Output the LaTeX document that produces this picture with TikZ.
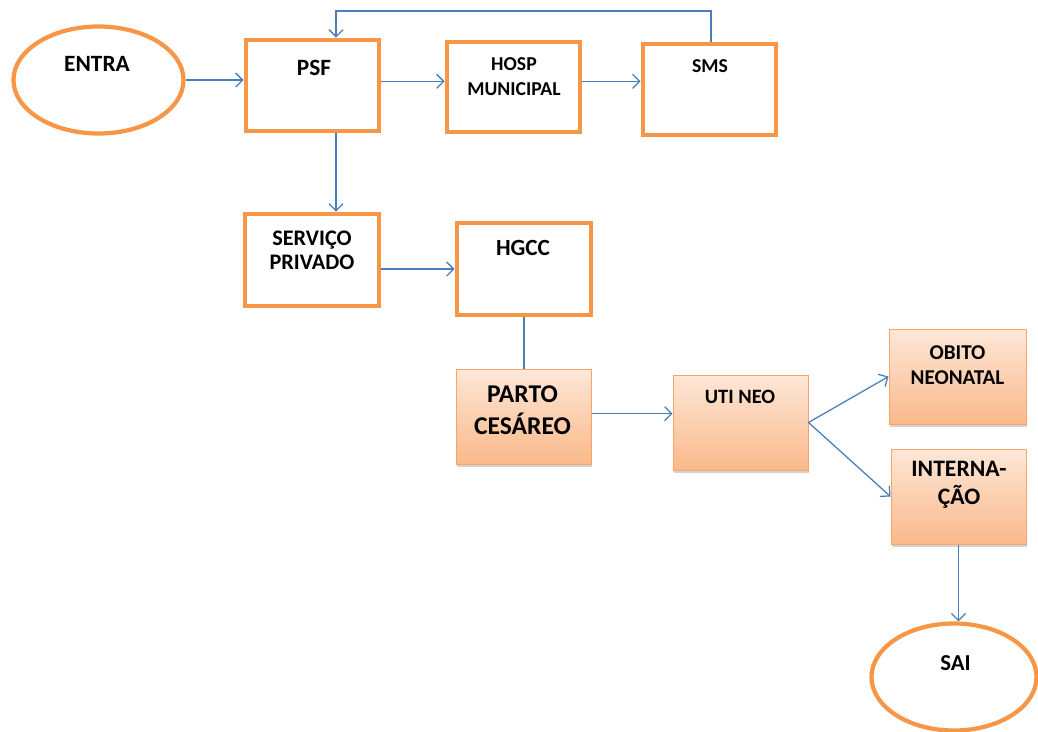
\documentclass[tikz,border=0pt]{standalone}
\usepackage{fontspec}
\setmainfont{Carlito}
\usetikzlibrary{arrows.meta,fit,shapes.geometric,shadows}
\definecolor{orng}{HTML}{F79646}
\definecolor{arrblue}{HTML}{4A7EBB}
\definecolor{ftop}{HTML}{FDE7D7}
\definecolor{fbot}{HTML}{FAB98A}
\definecolor{fedge}{HTML}{F8A466}
\begin{document}
\begin{tikzpicture}[x=0.025cm,y=-0.025cm,
  obox/.style={draw=orng,line width=3.5pt,inner sep=0pt,fill=white},
  fbox/.style={draw=fedge,line width=0.7pt,inner sep=0pt,top color=ftop,bottom color=fbot,
    drop shadow={shadow xshift=0.5pt,shadow yshift=-1.8pt,opacity=0.35}},
  oell/.style={ellipse,draw=orng,line width=3pt,inner sep=0pt,fill=white},
  lbl/.style={align=center,inner sep=0pt,text=black},
  fs/.style n args={2}{font={\fontsize{#1}{#2}\selectfont\bfseries}},
  arr/.style={draw=arrblue,line width=0.9pt,-{Straight Barb[length=5pt,width=10pt]}},
  lnk/.style={draw=arrblue,line width=0.9pt}]
\useasboundingbox (0,0) rectangle (1038,731);

% ellipses
\node[oell,minimum width=4.25cm,minimum height=2.675cm] (entra) at (98.5,80) {};
\node[oell,minimum width=4.125cm,minimum height=2.675cm] (sai) at (954,677) {};

% outlined boxes
\node[obox,fit={(246,40) (379,131)}] (psf) {};
\node[obox,fit={(447,42) (580,132)}] (hosp) {};
\node[obox,fit={(643,44) (776,135)}] (sms) {};
\node[obox,fit={(245,214) (379,306)}] (serv) {};
\node[obox,fit={(457,223) (591,315)}] (hgcc) {};

% filled boxes
\node[fbox,fit={(456,369) (591,464)}] (parto) {};
\node[fbox,fit={(673,375) (808,470)}] (uti) {};
\node[fbox,fit={(889,329) (1026,424)}] (obito) {};
\node[fbox,fit={(891,449) (1026,544)}] (intern) {};

% labels
\node[lbl,fs={16.6}{20}] (entraT) at (97,64) {ENTRA};
\node[lbl,fs={16.6}{20}] (psfT) at (314,67.5) {PSF};
\node[lbl,fs={14}{17.7}] (hospT) at (514,76.5) {HOSP\\MUNICIPAL};
\node[lbl,fs={14}{17}] (smsT) at (710,66) {SMS};
\node[lbl,fs={15.8}{17}] (servT) at (312,250) {SERVIÇO\\PRIVADO};
\node[lbl,fs={16.5}{20}] (hgccT) at (523,247.5) {HGCC};
\node[lbl,fs={18.2}{22.7}] (partoT) at (522.5,410) {PARTO\\CESÁREO};
\node[lbl,fs={14.5}{17}] (utiT) at (740,396.5) {UTI NEO};
\node[lbl,fs={15}{17.7}] (obitoT) at (957.5,365.5) {OBITO\\NEONATAL};
\node[lbl,fs={16.8}{19.9}] (internT) at (959,485) {INTERNA-\\ÇÃO};
\node[lbl,fs={16.2}{19}] (saiT) at (955.5,663) {SAI};

% connectors
\coordinate (top) at (336,11);
\draw[arr] (entra.east) -- (entra.east -| psf.west);
\draw[arr] ([yshift=3pt]psf.east) -- ([yshift=3pt]psf.east -| hosp.west);
\draw[arr] ([yshift=4pt]hosp.east) -- ([yshift=4pt]hosp.east -| sms.west);
\draw[arr] ([xshift=1pt]sms.north) |- (top) -- (top |- psf.north);
\draw[arr] (top |- psf.south) -- (top |- serv.north);
\draw[arr] (hgcc.west -| serv.east) -- (hgcc.west);
\draw[lnk] (hgcc.south) -- (hgcc.south |- parto.north);
\draw[arr] ([yshift=2pt]parto.east) -- ([yshift=2pt]parto.east -| uti.west);
\draw[arr] (uti.east) -- (obito.west);
\draw[arr] (uti.east) -- (intern.west);
\draw[arr] (intern.south) -- (intern.south |- sai.north);
\end{tikzpicture}
\end{document}
